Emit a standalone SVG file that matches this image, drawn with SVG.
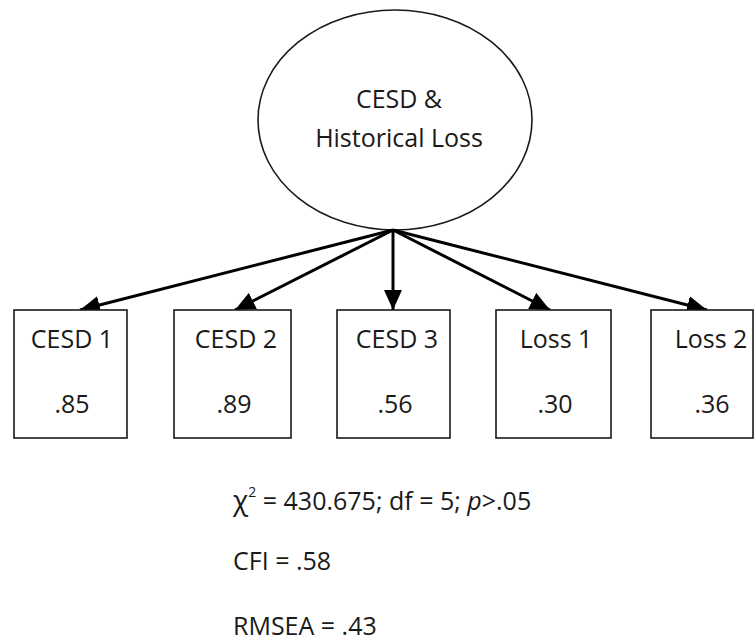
<svg xmlns="http://www.w3.org/2000/svg" width="755" height="644" viewBox="0 0 755 644">
<style>
.t{font-family:"Open Sans","Noto Sans","Liberation Sans",sans-serif;font-size:25px;fill:#1a1a1a}
.box{fill:#fff;stroke:#1a1a1a;stroke-width:1.6}
.c{stroke:#000;stroke-width:3;fill:none}
</style>
<defs>
<marker id="ah" markerUnits="userSpaceOnUse" markerWidth="21" markerHeight="18" refX="20" refY="9" orient="auto">
<path d="M0,0 L20,9 L0,18 Z" fill="#000"/>
</marker>
</defs>
<rect width="755" height="644" fill="#fff"/>
<g id="latent">
<ellipse cx="395" cy="120" rx="137" ry="110" fill="#fff" stroke="#1a1a1a" stroke-width="1.6"/>
<text class="t" x="399" y="108" text-anchor="middle">CESD &amp;</text>
<text class="t" x="399" y="147" text-anchor="middle">Historical Loss</text>
</g>
<g id="connectors">
<line class="c" x1="393" y1="230" x2="80" y2="310" marker-end="url(#ah)"/>
<line class="c" x1="393" y1="230" x2="235" y2="310" marker-end="url(#ah)"/>
<line class="c" x1="393" y1="230" x2="393" y2="310" marker-end="url(#ah)"/>
<line class="c" x1="393" y1="230" x2="550" y2="310" marker-end="url(#ah)"/>
<line class="c" x1="393" y1="230" x2="707" y2="310" marker-end="url(#ah)"/>
</g>
<g id="cesd1">
<rect class="box" x="14" y="310" width="113" height="128"/>
<text class="t" x="72" y="348" text-anchor="middle">CESD 1</text>
<text class="t" x="72" y="413" text-anchor="middle">.85</text>
</g>
<g id="cesd2">
<rect class="box" x="174" y="310" width="117" height="128"/>
<text class="t" x="236" y="348" text-anchor="middle">CESD 2</text>
<text class="t" x="234" y="413" text-anchor="middle">.89</text>
</g>
<g id="cesd3">
<rect class="box" x="337" y="310" width="113" height="128"/>
<text class="t" x="397" y="348" text-anchor="middle">CESD 3</text>
<text class="t" x="395" y="413" text-anchor="middle">.56</text>
</g>
<g id="loss1">
<rect class="box" x="496" y="310" width="115" height="128"/>
<text class="t" x="556" y="348" text-anchor="middle">Loss 1</text>
<text class="t" x="555" y="413" text-anchor="middle">.30</text>
</g>
<g id="loss2">
<rect class="box" x="651" y="310" width="102" height="128"/>
<text class="t" x="711" y="348" text-anchor="middle">Loss 2</text>
<text class="t" x="712" y="413" text-anchor="middle">.36</text>
</g>
<g id="fit">
<text class="t" x="233" y="510"><tspan font-size="28">χ</tspan><tspan font-size="14" dy="-13">2</tspan><tspan dy="13"> = 430.675; df = 5; </tspan><tspan font-style="italic">p</tspan>&gt;.05</text>
<text class="t" x="233" y="570">CFI = .58</text>
<text class="t" x="233" y="635">RMSEA = .43</text>
</g>
</svg>
